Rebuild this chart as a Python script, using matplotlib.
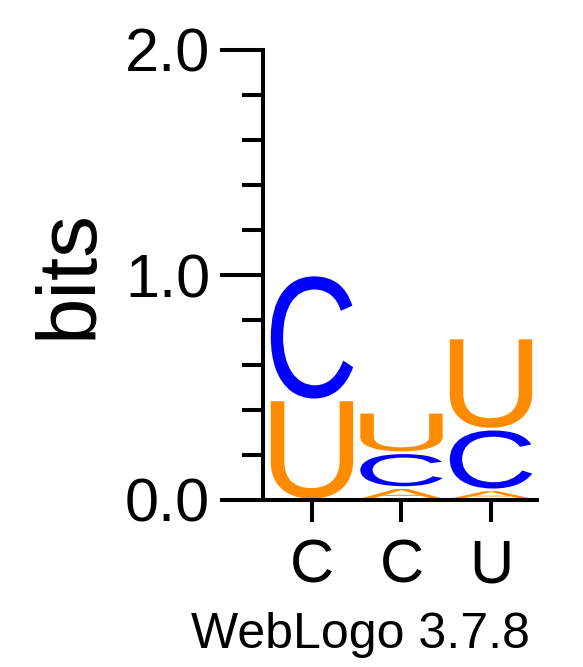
import matplotlib
matplotlib.use("Agg")
import matplotlib.pyplot as plt
from matplotlib.textpath import TextPath
from matplotlib.patches import PathPatch
from matplotlib.font_manager import FontProperties
from matplotlib.transforms import Affine2D

plt.rcParams["font.family"] = ["Liberation Sans", "DejaVu Sans"]

# sequence logo data: bits per letter at each position
positions = [1, 2, 3]
tick_labels = ["C", "C", "U"]
u_bits = [0.445, 0.18, 0.405]
c_bits = [0.555, 0.155, 0.27]
a_bits = [0.0, 0.055, 0.045]

letter_colors = {"U": "#ff8c00", "C": "#0000ff", "A": "#ff8c00"}
glyph_font = FontProperties(family="Liberation Sans")


def draw_letter(ax, letter, x, y0, h, width=0.92, pad=0.006):
    tp = TextPath((0, 0), letter, size=100, prop=glyph_font)
    ext = tp.get_extents()
    gh = h - 2 * pad
    if gh <= 0:
        return
    tr = (Affine2D()
          .translate(-ext.x0, -ext.y0)
          .scale(width / ext.width, gh / ext.height)
          .translate(x - width / 2, y0 + pad))
    path = tr.transform_path(tp)
    ax.add_patch(PathPatch(path, facecolor=letter_colors[letter],
                           edgecolor="none", lw=0))


fig = plt.figure(figsize=(5.83, 6.67), dpi=100)
ax = fig.add_axes([263 / 583, 167 / 667, 274 / 583, 450 / 667])

for i, x in enumerate(positions):
    stack = [("U", u_bits[i]), ("C", c_bits[i]), ("A", a_bits[i])]
    stack = sorted([s for s in stack if s[1] > 0], key=lambda s: s[1])
    y = 0.0
    for letter, h in stack:
        draw_letter(ax, letter, x, y, h)
        y += h

ax.set_xlim(0.453, 3.514)
ax.set_ylim(0, 2)

for side in ["top", "right"]:
    ax.spines[side].set_visible(False)
for side in ["left", "bottom"]:
    ax.spines[side].set_linewidth(2.9)
    ax.spines[side].set_capstyle("projecting")

ax.set_yticks([0, 1, 2])
ax.set_yticklabels(["0.0", "1.0", "2.0"])
ax.set_yticks([0.2, 0.4, 0.6, 0.8, 1.2, 1.4, 1.6, 1.8], minor=True)
ax.tick_params(axis="y", which="major", length=31, width=2.9, labelsize=44, pad=7)
ax.tick_params(axis="y", which="minor", length=15, width=2.9)

ax.set_xticks(positions)
ax.set_xticklabels(tick_labels)
ax.tick_params(axis="x", which="major", length=16, width=2.9, labelsize=44, pad=12)

fig.text(70 / 583, 1 - 274 / 667, "bits", rotation=90, ha="center", va="center",
         fontsize=60)
fig.text(530 / 583, 19 / 667, "WebLogo 3.7.8", ha="right", va="baseline",
         fontsize=36)

fig.savefig("out.png", dpi=100)
